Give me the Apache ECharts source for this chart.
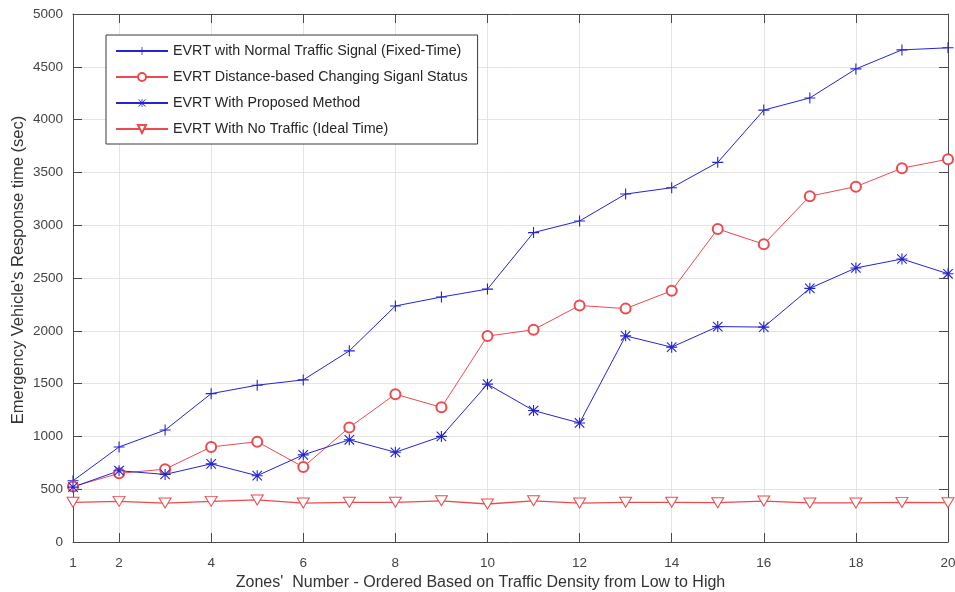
<!DOCTYPE html>
<html>
<head>
<meta charset="utf-8">
<script src="https://cdn.jsdelivr.net/npm/echarts@6/dist/echarts.min.js"></script>
<style>
  html, body { margin: 0; padding: 0; background: #fff; }
  #chart { width: 955px; height: 592px; }
</style>
</head>
<body>
<div id="chart"></div>
<script>
// Zones ordered by traffic density (low -> high)
const zones = [1, 2, 3, 4, 5, 6, 7, 8, 9, 10, 11, 12, 13, 14, 15, 16, 17, 18, 19, 20];

// Emergency vehicle response times (sec)
const fixedTime = [580, 900, 1060, 1405, 1485, 1535, 1810, 2235, 2320, 2395, 2930, 3040, 3295, 3355, 3595, 4090, 4205, 4480, 4660, 4680];
const distanceBased = [525, 650, 690, 900, 950, 710, 1085, 1400, 1275, 1950, 2010, 2240, 2210, 2380, 2965, 2820, 3275, 3365, 3540, 3625];
const proposed = [520, 675, 640, 740, 628, 825, 968, 850, 1000, 1495, 1245, 1127, 1952, 1845, 2040, 2035, 2402, 2595, 2680, 2540];
const idealTime = [376, 385, 369, 385, 398, 369, 376, 376, 390, 360, 390, 369, 376, 376, 372, 388, 370, 370, 375, 372];

const seriesNames = [
  'EVRT with Normal Traffic Signal (Fixed-Time)',
  'EVRT Distance-based Changing Siganl Status',
  'EVRT With Proposed Method',
  'EVRT With No Traffic (Ideal Time)'
];

const xLabelValues = [1, 2, 4, 6, 8, 10, 12, 14, 16, 18, 20];
const xTickValues = [2, 4, 6, 8, 10, 12, 14, 16, 18, 20];

const BLUE = '#2424d4';
const RED = '#ec4a4f';
const FONT = 'Liberation Sans, Arial, sans-serif';

// marker shapes
const plusSymbol = 'path://M9,0h2v20h-2z M0,9h20v2h-20z';
const starSymbol = 'path://M9,0h2v20h-2z M0,9h20v2h-20z M2.1,0.7L19.3,17.9L17.9,19.3L0.7,2.1z M17.9,0.7L19.3,2.1L2.1,19.3L0.7,17.9z';
const triDownSymbol = 'path://M0,0L20,0L10,17.3z';

const pairs = (vals) => zones.map((z, i) => [z, vals[i]]);

const chart = echarts.init(document.getElementById('chart'), null, { renderer: 'canvas' });

const axisLineStyle = { color: '#4a4a4a', width: 1 };

chart.setOption({
  animation: false,
  backgroundColor: '#fff',
  textStyle: { fontFamily: FONT },
  grid: { left: 73, right: 7, top: 14, bottom: 50, containLabel: false, outerBoundsMode: 'none' },
  legend: {
    orient: 'vertical',
    left: 106,
    top: 35,
    padding: [9, 10, 8, 9],
    itemGap: 12,
    itemWidth: 52,
    itemHeight: 10,
    backgroundColor: '#fff',
    borderColor: '#3a3a3a',
    borderWidth: 1,
    textStyle: { fontFamily: FONT, fontSize: 14.3, color: '#262626' },
    data: seriesNames
  },
  xAxis: [
    {
      type: 'value', min: 1, max: 20,
      name: "Zones'  Number - Ordered Based on Traffic Density from Low to High",
      nameLocation: 'middle', nameGap: 33, nameMoveOverlap: false,
      nameTextStyle: { fontFamily: FONT, fontSize: 16, color: '#333', padding: [0, 60, 0, 0] },
      axisLine: { show: true, onZero: false, lineStyle: axisLineStyle },
      axisTick: { show: true, inside: true, length: 9, customValues: xTickValues, lineStyle: axisLineStyle },
      axisLabel: { customValues: xLabelValues, fontFamily: FONT, fontSize: 13.5, color: '#444', margin: 14 },
      splitLine: { show: true, lineStyle: { color: '#e4e4e4', width: 1 } }
    },
    {
      type: 'value', min: 1, max: 20, position: 'top',
      axisLine: { show: true, onZero: false, lineStyle: axisLineStyle },
      axisTick: { show: true, inside: true, length: 9, customValues: xTickValues, lineStyle: axisLineStyle },
      axisLabel: { show: false },
      splitLine: { show: false }
    }
  ],
  yAxis: [
    {
      type: 'value', min: 0, max: 5000, interval: 500,
      name: "Emergency Vehicle's Response time (sec)",
      nameLocation: 'middle', nameGap: 46, nameMoveOverlap: false,
      nameTextStyle: { fontFamily: FONT, fontSize: 16.5, color: '#333', padding: [0, 0, 0, 16] },
      axisLine: { show: true, onZero: false, lineStyle: axisLineStyle },
      axisTick: { show: true, inside: true, length: 9, lineStyle: axisLineStyle },
      axisLabel: { fontFamily: FONT, fontSize: 13.5, color: '#444', margin: 10, formatter: (v) => String(v) },
      splitLine: { show: true, lineStyle: { color: '#e4e4e4', width: 1 } }
    },
    {
      type: 'value', min: 0, max: 5000, interval: 500, position: 'right',
      axisLine: { show: true, onZero: false, lineStyle: axisLineStyle },
      axisTick: { show: true, inside: true, length: 9, lineStyle: axisLineStyle },
      axisLabel: { show: false },
      splitLine: { show: false }
    }
  ],
  series: [
    {
      name: seriesNames[0], type: 'line', data: pairs(fixedTime),
      symbol: plusSymbol, symbolSize: 11,
      lineStyle: { color: BLUE, width: 1 },
      itemStyle: { color: BLUE }
    },
    {
      name: seriesNames[1], type: 'line', data: pairs(distanceBased),
      symbol: 'emptyCircle', symbolSize: 10,
      lineStyle: { color: RED, width: 1 },
      itemStyle: { color: RED, borderColor: RED, borderWidth: 1 }
    },
    {
      name: seriesNames[2], type: 'line', data: pairs(proposed),
      symbol: starSymbol, symbolSize: 11,
      lineStyle: { color: BLUE, width: 1 },
      itemStyle: { color: BLUE }
    },
    {
      name: seriesNames[3], type: 'line', data: pairs(idealTime),
      symbol: triDownSymbol, symbolSize: [12, 10],
      lineStyle: { color: RED, width: 1.3 },
      itemStyle: { color: '#fff', borderColor: RED, borderWidth: 1 }
    }
  ]
});
</script>
</body>
</html>
